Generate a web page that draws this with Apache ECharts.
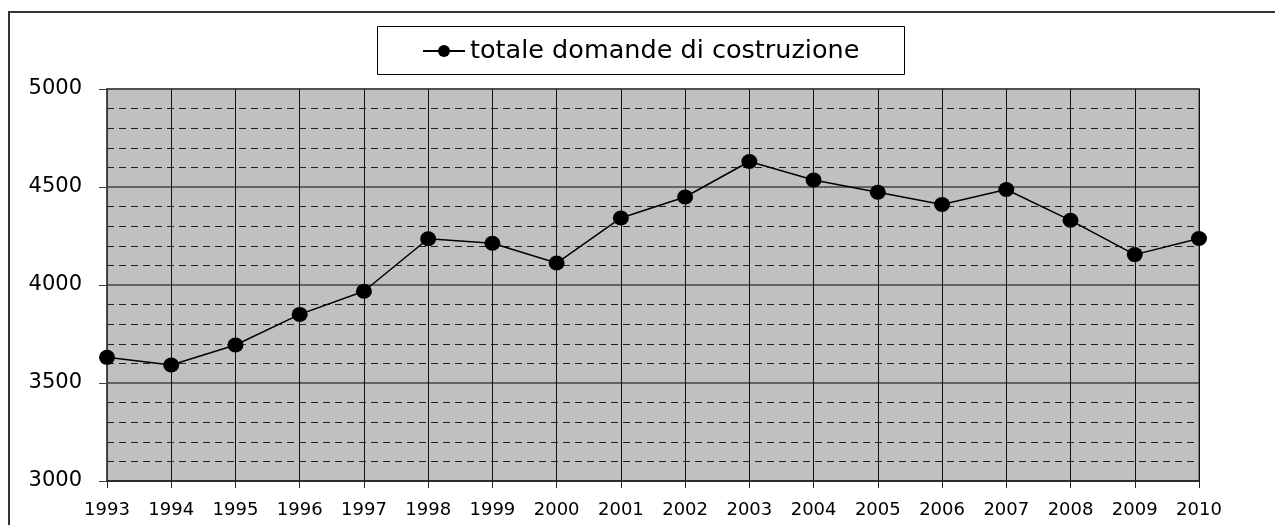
<!DOCTYPE html>
<html>
<head>
<meta charset="utf-8">
<script src="https://cdn.jsdelivr.net/npm/echarts@6/dist/echarts.min.js"></script>
<style>
	html, body { margin:0; padding:0; background:#fff; }
	#main { width:1275px; height:525px; }
</style>
</head>
<body>
<div id="main"></div>
<script>
var anni = ['1993','1994','1995','1996','1997','1998','1999','2000','2001','2002','2003','2004','2005','2006','2007','2008','2009','2010'];
var domande = [3631, 3592, 3694, 3850, 3968, 4236, 4213, 4112, 4342, 4449, 4630, 4536, 4473, 4411, 4487, 4330, 4155, 4237];
var nomeSerie = 'totale domande di costruzione';

var myChart = echarts.init(document.getElementById('main'));
// grafico a linee
var option = {
	animation : false,
	backgroundColor : '#ffffff',
	graphic : [ {
		type : 'rect',
		shape : { x : 9, y : 12, width : 1300, height : 560 },
		style : { fill : 'none', stroke : '#333', lineWidth : 2 },
		z : 0
	}, {
		type : 'rect',
		shape : { x : 377.5, y : 26.5, width : 527, height : 48 },
		style : { fill : '#fff', stroke : '#000', lineWidth : 1 },
		z : 1
	} ],
	legend : {
		left : 422,
		top : 38,
		itemWidth : 42,
		itemHeight : 15,
		padding : 0,
		data : [ nomeSerie ],
		textStyle : {
			fontFamily : 'DejaVu Sans',
			fontSize : 25.5,
			color : '#000'
		},
		z : 5
	},
	grid : {
		left : 107,
		right : 76,
		top : 89,
		bottom : 44,
		show : true,
		backgroundColor : '#c0c0c0',
		borderColor : '#7a7a7a',
		borderWidth : 2
	},
	xAxis : [ {
		type : 'category',
		boundaryGap : false,
		data : anni,
		axisLine : { lineStyle : { color : '#222', width : 1.5 } },
		axisTick : { show : true, length : 7, lineStyle : { color : '#222' } },
		axisLabel : {
			margin : 20,
			fontFamily : 'DejaVu Sans',
			fontSize : 18,
			color : '#000'
		},
		splitLine : { show : true, lineStyle : { color : '#111', width : 1 } }
	} ],
	yAxis : [ {
		type : 'value',
		min : 3000,
		max : 5000,
		interval : 500,
		axisLine : { show : true, lineStyle : { color : '#444', width : 1.5 } },
		axisTick : { show : true, length : 8, lineStyle : { color : '#444' } },
		axisLabel : {
			margin : 25,
			fontFamily : 'DejaVu Sans',
			fontSize : 21,
			color : '#000',
			formatter : function(v){ return String(v); }
		},
		splitLine : { show : true, lineStyle : { color : '#444', width : 1.5 } },
		minorTick : { show : false, splitNumber : 5 },
		minorSplitLine : { show : true, lineStyle : { color : '#222', width : 1.2, type : [7, 5] } }
	} ],
	series : [ {
		name : nomeSerie,
		type : 'line',
		data : domande,
		symbol : 'circle',
		symbolSize : [16, 15],
		itemStyle : { color : '#000' },
		lineStyle : { color : '#000', width : 1.5 },
		z : 3
	} ]
};
myChart.setOption(option);
</script>
</body>
</html>
